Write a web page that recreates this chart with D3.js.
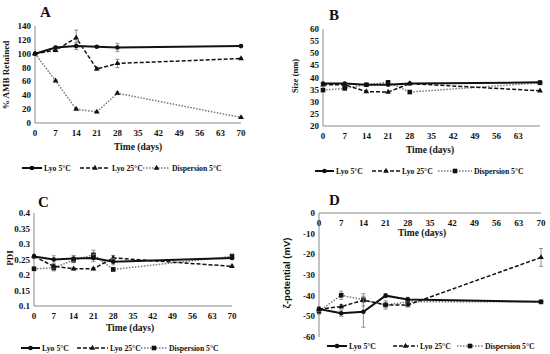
<!DOCTYPE html>
<html>
<head>
<script src="https://d3js.org/d3.v7.min.js"></script>
<style>
  body { margin: 0; background: #fff; }
  text { font-family: "Liberation Serif", "Times New Roman", serif; font-weight: bold; fill: #111; }
</style>
</head>
<body>
<svg id="chart" width="550" height="354"></svg>
<script>
// sampling days and axis ticks
const days = [0, 7, 14, 21, 28, 70];
const xTicks = [0, 7, 14, 21, 28, 35, 42, 49, 56, 63, 70];
const seriesNames = ["Lyo 5°C", "Lyo 25°C", "Dispersion 5°C"];

// A: % AMB retained
const ambLyo5 = [100, 109, 111, 110, 109, 111];
const ambLyo25 = [100, 105, 123, 78, 86, 93];
const ambDisp = [100, 61, 20, 16, 43, 8];
const ambErrLyo5 = [0, 2, 5, 1, 6, 1];
const ambErrLyo25 = [0, 2, 11, 2, 6, 1];
const ambErrDisp = [0, 1, 1, 1, 2, 1];

// B: size (nm)
const sizeLyo5 = [37.5, 37.5, 37, 37, 37.5, 38];
const sizeLyo25 = [37, 37, 34.2, 34, 37.5, 34.5];
const sizeDisp = [34.8, 35.5, 37, 38, 34, 37.8];

// C: PDI
const pdiLyo5 = [0.26, 0.25, 0.253, 0.255, 0.243, 0.255];
const pdiLyo25 = [0.26, 0.228, 0.22, 0.22, 0.255, 0.228];
const pdiDisp = [0.22, 0.223, 0.248, 0.265, 0.218, 0.26];
const pdiErrLyo5 = [0.005, 0.012, 0.01, 0.012, 0.01, 0.005];
const pdiErrLyo25 = [0.004, 0.006, 0.004, 0.004, 0.008, 0.004];
const pdiErrDisp = [0.005, 0.01, 0.008, 0.015, 0.005, 0.008];

// D: zeta potential (mV)
const zetaLyo5 = [-46.5, -48.5, -47.8, -40, -41.8, -43];
const zetaLyo25 = [-46.5, -45.3, -42.2, -44.5, -44.5, -21.5];
const zetaDisp = [-47.5, -39.8, -42, -44.5, -43, -43];
const zetaErrLyo5 = [1, 1.5, 7.5, 1, 1, 0.5];
const zetaErrLyo25 = [1, 1, 1, 1, 1, 4.3];
const zetaErrDisp = [1.5, 2, 3, 2, 1, 0.5];

const svg = d3.select("#chart");

const styles = [
  { dash: null, width: 2, color: "#111", marker: "circle" },
  { dash: "4,2", width: 1.5, color: "#111", marker: "triangle" },
  { dash: "1.5,1.5", width: 1.5, color: "#777", marker: "square" }
];

const panels = [
  { label: "A", lx: 40, ly: 17, xr: [35, 241], yd: [0, 140], yr: [123, 26], yt: d3.range(0, 141, 20),
    fmt: d => d, xt: xTicks, ytitle: "% AMB Retained", ytx: 9, yty: 75,
    tx: 138, ty: 150, legY: 168, leg: [22, 80, 143], legW: [20, 30, 27], dispMarker: "triangle",
    series: [ambLyo5, ambLyo25, ambDisp], err: [ambErrLyo5, ambErrLyo25, ambErrDisp] },
  { label: "B", lx: 329, ly: 20, xr: [323, 540], yd: [20, 60], yr: [126, 29], yt: d3.range(20, 61, 5),
    fmt: d => d, xt: xTicks.slice(0, 10), ytitle: "Size (nm)", ytx: 298, yty: 76,
    tx: 430, ty: 153, legY: 171, leg: [315, 372, 438], legW: [19, 28, 34], dispMarker: "square",
    series: [sizeLyo5, sizeLyo25, sizeDisp], err: [null, null, null] },
  { label: "C", lx: 38, ly: 207, xr: [34, 232], yd: [0.1, 0.4], yr: [306, 213], yt: d3.range(0.1, 0.41, 0.05),
    fmt: d => +d.toFixed(2), xt: xTicks, ytitle: "PDI", ytx: 13, yty: 258,
    tx: 130, ty: 331, legY: 348, leg: [21, 77, 141], legW: [19, 31, 26], dispMarker: "square",
    series: [pdiLyo5, pdiLyo25, pdiDisp], err: [pdiErrLyo5, pdiErrLyo25, pdiErrDisp] },
  { label: "D", lx: 329, ly: 205, xr: [319, 541], yd: [-60, 0], yr: [337, 213], yt: d3.range(-60, 1, 10),
    fmt: d => d, xt: xTicks, ytitle: "ζ-potential (mV)", ytx: 290, yty: 273, top: true,
    tx: 422, ty: 236, legY: 346, leg: [327, 393, 457], legW: [20, 25, 26], dispMarker: "square",
    series: [zetaLyo5, zetaLyo25, zetaDisp], err: [zetaErrLyo5, zetaErrLyo25, zetaErrDisp] }
];

function drawMarker(g, type, x, y, color) {
  if (type === "circle") {
    g.append("circle").attr("cx", x).attr("cy", y).attr("r", 2.3).attr("fill", color);
  } else if (type === "triangle") {
    g.append("path").attr("d", d3.symbol(d3.symbolTriangle, 14)()).attr("transform", `translate(${x},${y})`).attr("fill", "#111");
  } else {
    g.append("rect").attr("x", x - 2.3).attr("y", y - 2.3).attr("width", 4.6).attr("height", 4.6).attr("fill", "#111");
  }
}

panels.forEach(p => {
  const g = svg.append("g");
  const x = d3.scaleLinear().domain([0, 70]).range(p.xr);
  const y = d3.scaleLinear().domain(p.yd).range(p.yr);

  g.append("text").attr("x", p.lx).attr("y", p.ly).attr("font-size", 15).text(p.label);

  // axes lines
  const xAxisY = p.top ? y(0) : p.yr[0];
  g.append("line").attr("x1", p.xr[0]).attr("x2", p.xr[1]).attr("y1", xAxisY).attr("y2", xAxisY)
    .attr("stroke", "#888").attr("stroke-width", 1);
  g.append("line").attr("x1", p.xr[0]).attr("x2", p.xr[0]).attr("y1", p.yr[0]).attr("y2", p.yr[1])
    .attr("stroke", "#888").attr("stroke-width", 1);

  // y tick labels
  g.selectAll(".yt").data(p.yt).join("text")
    .attr("x", p.xr[0] - 4).attr("y", d => y(d) + 3)
    .attr("text-anchor", "end").attr("font-size", 9)
    .text(p.fmt);

  // x tick labels
  g.selectAll(".xt").data(p.xt).join("text")
    .attr("x", d => x(d)).attr("y", xAxisY + 13)
    .attr("text-anchor", "middle").attr("font-size", 9)
    .text(d => d);

  g.append("text").attr("x", p.tx).attr("y", p.ty).attr("text-anchor", "middle")
    .attr("font-size", 9.5).text("Time (days)");

  const yt = g.append("text").attr("transform", `translate(${p.ytx},${p.yty}) rotate(-90)`)
    .attr("text-anchor", "middle").attr("font-size", p.label === "B" ? 8.5 : 9).text(p.ytitle);
  if (p.label === "D") yt.style("font-family", "'Liberation Sans', Arial, sans-serif").attr("font-size", 9.5);

  const line = d3.line().x((d, i) => x(days[i])).y(d => y(d));

  // series drawn back to front
  [2, 1, 0].forEach(si => {
    const st = styles[si];
    const vals = p.series[si];
    const errs = p.err[si];
    const mk = si === 2 ? p.dispMarker : st.marker;
    if (errs) {
      vals.forEach((v, i) => {
        if (!errs[i]) return;
        const cx = x(days[i]);
        g.append("path")
          .attr("d", `M${cx - 2},${y(v + errs[i])}H${cx + 2}M${cx},${y(v + errs[i])}V${y(v - errs[i])}M${cx - 2},${y(v - errs[i])}H${cx + 2}`)
          .attr("stroke", "#777").attr("stroke-width", 0.8).attr("fill", "none");
      });
    }
    g.append("path").datum(vals).attr("d", line)
      .attr("fill", "none").attr("stroke", st.color).attr("stroke-width", st.width)
      .attr("stroke-dasharray", st.dash);
    vals.forEach((v, i) => drawMarker(g, mk, x(days[i]), y(v), "#111"));
  });

  // legend
  seriesNames.forEach((name, si) => {
    const st = styles[si];
    const lx = p.leg[si], w = p.legW[si];
    g.append("line").attr("x1", lx).attr("x2", lx + w).attr("y1", p.legY).attr("y2", p.legY)
      .attr("stroke", st.color).attr("stroke-width", st.width).attr("stroke-dasharray", st.dash);
    drawMarker(g, si === 2 ? p.dispMarker : st.marker, lx + w / 2, p.legY, "#111");
    g.append("text").attr("transform", `translate(${lx + w + 2},${p.legY + 3.2}) scale(0.88,1)`)
      .attr("font-size", 8.8).text(name);
  });
});
</script>
</body>
</html>
